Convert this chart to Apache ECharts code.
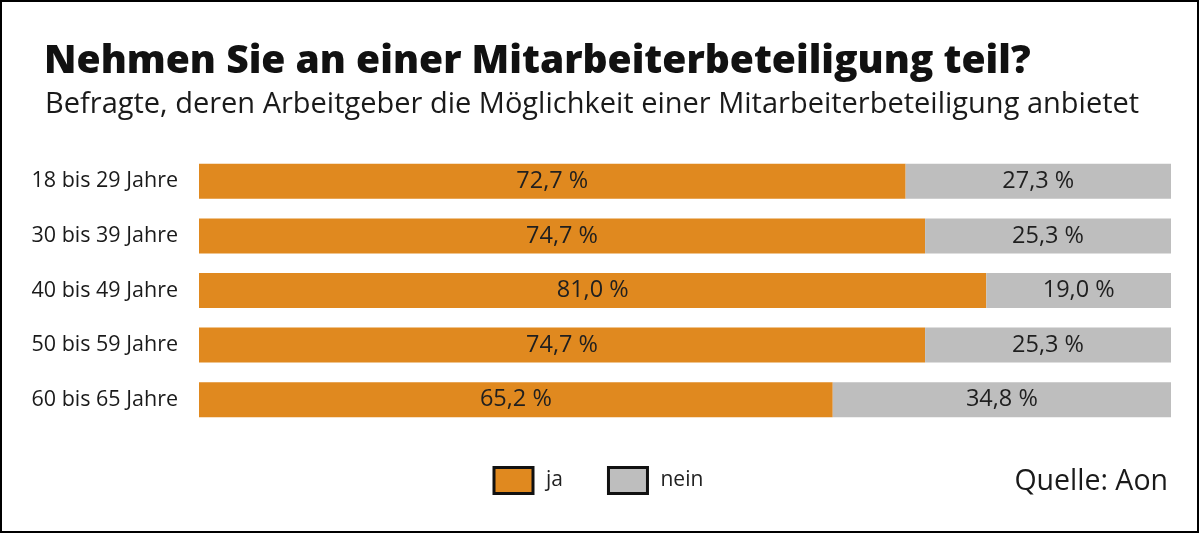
<!DOCTYPE html>
<html>
<head>
<meta charset="utf-8">
<script src="https://cdn.jsdelivr.net/npm/echarts@6/dist/echarts.min.js"></script>
<style>
html,body{margin:0;padding:0;background:#fff;}
#c{width:1200px;height:534px;}
</style>
</head>
<body>
<div id="c"></div>
<script>
const categories = ['18 bis 29 Jahre','30 bis 39 Jahre','40 bis 49 Jahre','50 bis 59 Jahre','60 bis 65 Jahre'];
const jaValues = [72.7, 74.7, 81.0, 74.7, 65.2];
const neinValues = [27.3, 25.3, 19.0, 25.3, 34.8];
const seriesNames = ['ja','nein'];

const FONT = '"Open Sans", sans-serif';
const fmt = p => p.value.toFixed(1).replace('.', ',') + ' %';

const chart = echarts.init(document.getElementById('c'));
chart.setOption({
  backgroundColor: '#fff',
  animation: false,
  title: [
    {text: 'Nehmen Sie an einer Mitarbeiterbeteiligung teil?', left: 44, top: 42, padding: 0,
     textStyle: {fontFamily: FONT, fontWeight: 800, fontSize: 39, color: '#111'}},
    {text: 'Befragte, deren Arbeitgeber die Möglichkeit einer Mitarbeiterbeteiligung anbietet', left: 45, top: 90, padding: 0,
     textStyle: {fontFamily: FONT, fontWeight: 400, fontSize: 29, color: '#1a1a1a'}},
    {text: 'Quelle: Aon', right: 32, top: 467, padding: 0,
     textStyle: {fontFamily: FONT, fontWeight: 400, fontSize: 28.5, color: '#1a1a1a'}}
  ],
  legend: {
    left: 492.5, top: 466, padding: 0, itemWidth: 39, itemHeight: 26, itemGap: 44,
    icon: 'rect',
    itemStyle: {borderColor: '#111', borderWidth: 3},
    textStyle: {fontFamily: FONT, fontSize: 21, color: '#222', padding: [0,0,2,8]},
    data: seriesNames
  },
  grid: {left: 199, right: 29, top: 154, bottom: 107, containLabel: false},
  xAxis: {type: 'value', min: 0, max: 100, show: false},
  yAxis: {
    type: 'category', data: categories, inverse: true,
    axisLine: {show: false}, axisTick: {show: false},
    axisLabel: {fontFamily: FONT, fontSize: 21.5, color: '#1a1a1a', margin: 21}
  },
  series: [
    {name: seriesNames[0], type: 'bar', stack: 'a', data: jaValues, barWidth: 35,
     itemStyle: {color: '#E0891F'},
     emphasis: {disabled: true},
     label: {show: true, position: 'inside', formatter: fmt, fontFamily: FONT, fontSize: 23.5, color: '#1f1f1f'}},
    {name: seriesNames[1], type: 'bar', stack: 'a', data: neinValues, barWidth: 35,
     itemStyle: {color: '#BEBEBE'},
     emphasis: {disabled: true},
     label: {show: true, position: 'inside', formatter: fmt, fontFamily: FONT, fontSize: 23.5, color: '#1f1f1f'}}
  ],
  graphic: [
    {type: 'rect', shape: {x: 1, y: 1, width: 1197, height: 531},
     style: {fill: 'none', stroke: '#000', lineWidth: 2}, silent: true}
  ]
});
</script>
</body>
</html>
